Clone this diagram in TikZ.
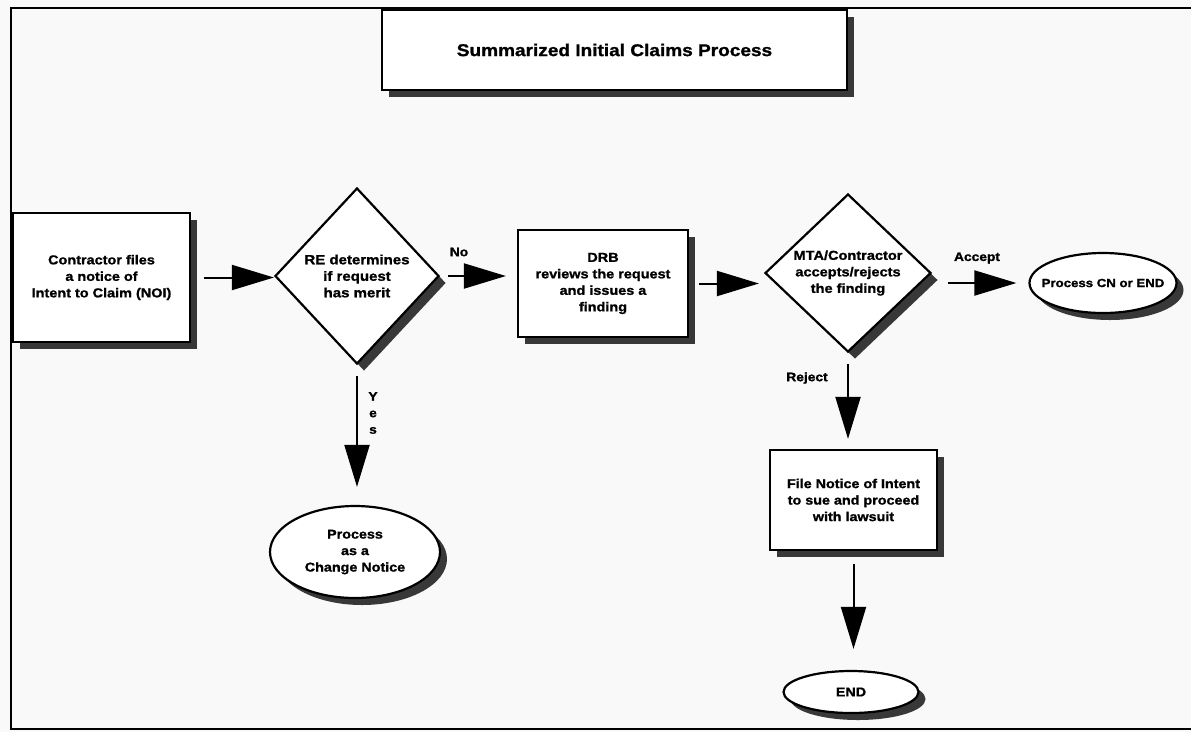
\documentclass[tikz,border=0pt]{standalone}
\usepackage{fontspec}
\setmainfont{Liberation Sans}[FakeStretch=1.12, BoldFeatures={FakeBold=1.2}]
\usetikzlibrary{shapes.geometric, arrows.meta, shadows}

\newcommand\textsz[1]{\fontsize{#1}{16.5}\selectfont}

\tikzset{
  shapebase/.style={draw=black, line width=2.2pt, fill=white, inner sep=0pt,
    align=center, font=\bfseries\textsz{12.8},
    drop shadow={shadow xshift=7pt, shadow yshift=-7pt, fill=black!78, opacity=1}},
  procbox/.style={shapebase, rectangle},
  decision/.style={shapebase, diamond},
  terminal/.style={shapebase, ellipse},
  flow/.style={line width=2pt, -{Triangle[length=42pt,width=25pt]}},
  flowlabel/.style={inner sep=0pt, align=center, font=\bfseries\textsz{12.3}},
}

\begin{document}
\begin{tikzpicture}[x=1pt, y=-1pt]
  % page and frame
  \fill[gray!5] (0,0) rectangle (1191,732);
  \useasboundingbox (0,0) rectangle (1191,732);
  \draw[line width=2pt] (1191,8) -- (11,8) -- (11,729) -- (1191,729);

  % title
  \node[procbox, minimum width=465pt, minimum height=80pt, font=\bfseries\textsz{17}]
    (title) at (614.5,50) {Summarized Initial Claims Process};

  % process steps
  \node[procbox, minimum width=177pt, minimum height=129pt, font=\bfseries\textsz{12.9}]
    (noi) at (101.5,277.5) {Contractor files\\a notice of\\Intent to Claim (NOI)};
  \node[decision, minimum width=164pt, minimum height=176pt, font=\bfseries\textsz{13.4}]
    (merit) at (357,276) {RE determines\\if request\\has merit};
  \node[procbox, minimum width=170pt, minimum height=107pt, font=\bfseries\textsz{12.9}]
    (drb) at (603,283.5) {DRB\\reviews the request\\and issues a\\finding};
  \node[decision, minimum width=166pt, minimum height=158pt, font=\bfseries\textsz{13}]
    (accept) at (848,273) {MTA/Contractor\\accepts/rejects\\the finding};
  \node[terminal, minimum width=147pt, minimum height=60pt, font=\bfseries\textsz{11.8}]
    (cnend) at (1103,283) {\makebox[0pt]{Process CN or END}};
  \node[terminal, minimum width=170pt, minimum height=92pt, font=\bfseries\textsz{12.8}]
    (change) at (355,552) {Process\\as a\\Change Notice};
  \node[procbox, minimum width=167pt, minimum height=100pt, font=\bfseries\textsz{12.8}]
    (lawsuit) at (853.5,500) {File Notice of Intent\\to sue and proceed\\with lawsuit};
  \node[terminal, minimum width=135pt, minimum height=42pt, font=\bfseries\textsz{12.8}]
    (fin) at (851,692) {END};

  % connectors
  \draw[flow, shorten <=13pt] (noi.east) -- (noi.east -| merit.west);
  \draw[flow, shorten <=8pt, shorten >=11pt] (merit.east) -- (merit.east -| drb.west);
  \draw[flow, shorten <=10pt, shorten >=5pt] (drb.east) -- (drb.east -| accept.west);
  \draw[flow, shorten <=16pt, shorten >=12pt] (cnend.west -| accept.east) -- (cnend.west);
  \draw[flow, shorten <=11pt, shorten >=18pt] (merit.south) -- (merit.south |- change.north);
  \draw[flow, shorten <=11pt, shorten >=10pt] (accept.south) -- (accept.south |- lawsuit.north);
  \draw[flow, shorten <=13pt, shorten >=21pt] (lawsuit.south) -- (lawsuit.south |- fin.north);

  % connector labels
  \node[flowlabel] (nolbl) at (459,252) {No};
  \node[flowlabel] (acceptlbl) at (977,258) {Accept};
  \node[flowlabel] (rejectlbl) at (807,378) {Reject};
  \node[flowlabel] (yeslbl) at (373,413) {Y\\e\\s};
\end{tikzpicture}
\end{document}
